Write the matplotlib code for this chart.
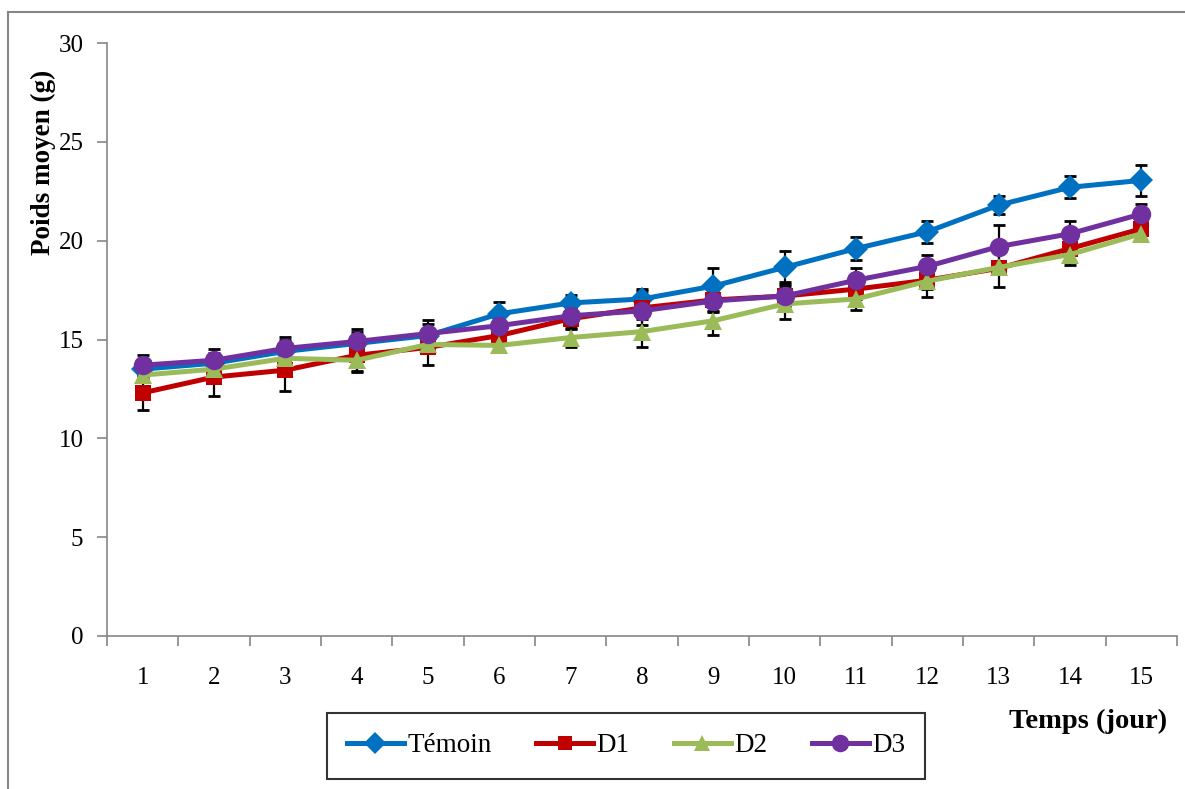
import matplotlib
matplotlib.use("Agg")
import matplotlib.pyplot as plt
from matplotlib.lines import Line2D

plt.rcParams['font.family'] = ['Liberation Serif', 'DejaVu Serif']

days = list(range(1, 16))
day_labels = [str(d) for d in days]

temoin = [13.5, 13.8, 14.4, 14.8, 15.2, 16.3, 16.85, 17.05, 17.7, 18.65, 19.6, 20.45, 21.8, 22.7, 23.05]
temoin_err = [0.5, 0.5, 0.6, 0.6, 0.6, 0.6, 0.4, 0.5, 0.9, 0.85, 0.6, 0.55, 0.45, 0.55, 0.8]

d1 = [12.3, 13.1, 13.45, 14.2, 14.6, 15.2, 16.05, 16.6, 17.0, 17.2, 17.55, 18.0, 18.6, 19.6, 20.6]
d1_err = [0.85, 0.95, 1.05, 0.8, 0.9, 0.5, 0.5, 0.85, 0.6, 0.7, 0.5, 0.85, 0.95, 0.83, 0.5]

d2 = [13.2, 13.5, 14.05, 13.95, 14.75, 14.7, 15.1, 15.4, 15.95, 16.8, 17.05, 17.95, 18.65, 19.3, 20.35]
d2_err = [0.3, 0.3, 0.3, 0.6, 0.3, 0.3, 0.5, 0.8, 0.7, 0.75, 0.55, 0.4, 0.3, 0.4, 0.3]

d3 = [13.7, 13.95, 14.55, 14.9, 15.3, 15.7, 16.2, 16.45, 16.95, 17.2, 18.0, 18.7, 19.7, 20.35, 21.35]
d3_err = [0.5, 0.55, 0.6, 0.65, 0.7, 0.4, 0.4, 0.4, 0.5, 0.5, 0.6, 0.6, 1.1, 0.65, 0.5]

series = [
    ("Témoin", temoin, temoin_err, "#0070C0", "D", 12),
    ("D1", d1, d1_err, "#C00000", "s", 11),
    ("D2", d2, d2_err, "#9BBB59", "^", 13),
    ("D3", d3, d3_err, "#7030A0", "o", 14),
]

W, H = 1185, 789
fig = plt.figure(figsize=(W / 100, H / 100), dpi=100)
ax = fig.add_axes([107 / W, (H - 636) / H, (1177 - 107) / W, (636 - 43) / H])

for i, (name, vals, err, col, mk, ms) in enumerate(series):
    ax.errorbar(days, vals, yerr=err, fmt='none', ecolor='black', elinewidth=1.6,
                capsize=4.5, capthick=2, zorder=2 + i * 0.01)
for i, (name, vals, err, col, mk, ms) in enumerate(series):
    ax.plot(days, vals, color=col, lw=3.6, marker=mk, markersize=ms,
            markeredgewidth=0, solid_capstyle='round', zorder=3 + i, label=name)

ax.set_xlim(0.5, 15.5)
ax.set_ylim(0, 30)
ax.set_yticks([0, 5, 10, 15, 20, 25, 30])
ax.set_xticks(days)
ax.set_xticklabels(day_labels)
ax.set_xticks([d + 0.5 for d in range(0, 16)], minor=True)

gray = "#868686"
for s in ("top", "right"):
    ax.spines[s].set_visible(False)
for s in ("left", "bottom"):
    ax.spines[s].set_color(gray)
    ax.spines[s].set_linewidth(1.2)

ax.tick_params(axis='y', direction='out', length=7, width=1.2, color=gray,
               labelsize=18, pad=10, labelcolor='black')
ax.tick_params(axis='x', which='major', length=0, labelsize=18, pad=22)
ax.tick_params(axis='x', which='minor', direction='out', length=7, width=1.2, color=gray)

fig.text(43 / W, (H - 162) / H, "Poids moyen (g)", rotation=90, ha='center', va='center',
         fontsize=19.5, fontweight='bold')
fig.text(1167 / W, (H - 721) / H, "Temps (jour)", ha='right', va='center',
         fontsize=20.5, fontweight='bold')

handles = [Line2D([], [], color=c, lw=3.6, marker=m, markersize=s * 0.9, markeredgewidth=0)
           for (_, _, _, c, m, s) in series]
leg = fig.legend(handles, [s[0] for s in series], ncol=4, loc='center',
                 bbox_to_anchor=((330 + 922) / 2 / W, (H - 746) / H),
                 fontsize=19.5, frameon=True, fancybox=False, handlelength=2.1,
                 columnspacing=1.65, handletextpad=0.12, borderpad=0.75)
leg.get_frame().set_edgecolor('black')
leg.get_frame().set_linewidth(1.5)

fig.add_artist(Line2D([8 / W, 8 / W], [0, (H - 12) / H], color=gray, lw=1.5))
fig.add_artist(Line2D([8 / W, 1], [(H - 12) / H, (H - 12) / H], color=gray, lw=1.5))

fig.savefig("out.png", dpi=100)
